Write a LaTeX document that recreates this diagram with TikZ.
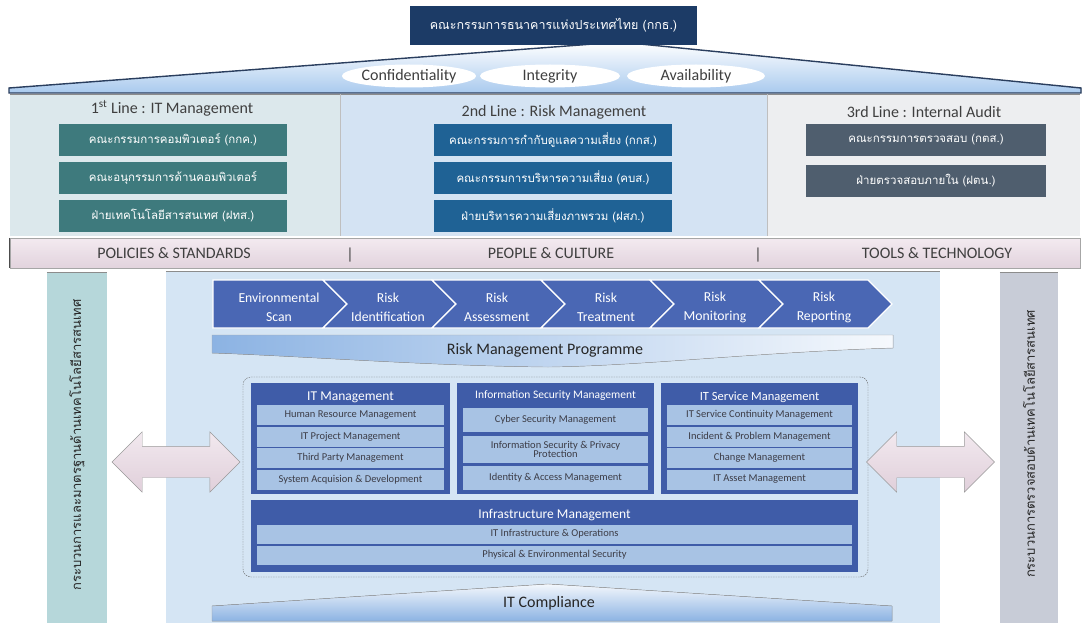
\documentclass[tikz,border=0pt]{standalone}
\usepackage{fontspec}
\setmainfont{Carlito}
\newfontfamily\thaifont[Script=Thai]{Loma}
\usetikzlibrary{shapes.geometric,shapes.arrows}

\definecolor{boardnavy}{HTML}{1C3B66}
\definecolor{roofline}{HTML}{2A3E5E}
\definecolor{roofblue}{HTML}{A9CAEE}
\definecolor{firstpanel}{HTML}{DCE8EC}
\definecolor{secondpanel}{HTML}{D4E3F3}
\definecolor{thirdpanel}{HTML}{EDEEF0}
\definecolor{firstteal}{HTML}{3E7A7D}
\definecolor{secondblue}{HTML}{1F6295}
\definecolor{thirdslate}{HTML}{4F5E6E}
\definecolor{bandtop}{HTML}{F3EAF0}
\definecolor{bandbot}{HTML}{E2D3DD}
\definecolor{bandtext}{HTML}{3F3F3F}
\definecolor{stdbar}{HTML}{B6D7DA}
\definecolor{auditbar}{HTML}{C8CCD7}
\definecolor{corepanel}{HTML}{D5E5F4}
\definecolor{chevblue}{HTML}{4A67B4}
\definecolor{groupblue}{HTML}{3F5CA8}
\definecolor{itemblue}{HTML}{A8C3E4}
\definecolor{itemtext}{HTML}{3C3C46}
\definecolor{ribbonblue}{HTML}{8CB3E3}
\definecolor{arrowtop}{HTML}{F2E9EF}
\definecolor{arrowbot}{HTML}{E0CFDA}

\begin{document}
\begin{tikzpicture}[x=1pt, y=-1pt,
    linebox/.style={rectangle, minimum width=228pt, minimum height=32pt, inner sep=0pt, text=white, font=\thaifont\fontsize{11.5}{13}\selectfont},
    pillar/.style={ellipse, fill=white, minimum width=132pt, minimum height=23pt, inner sep=0pt, text=bandtext, font=\fontsize{16}{18}\selectfont},
    linetitle/.style={text=bandtext, font=\fontsize{16}{18}\selectfont},
    bandlabel/.style={text=bandtext, font=\fontsize{16}{18}\selectfont},
    sidebar/.style={rectangle, minimum width=60pt, minimum height=351pt, inner sep=0pt},
    sidetext/.style={rotate=90, text=black!85, font=\thaifont\fontsize{13}{15}\selectfont},
    chevron/.style={fill=chevblue, draw=white, line width=1.3pt, line join=miter},
    chevtext/.style={align=center, text=white, font=\fontsize{13.7}{19}\selectfont},
    groupbox/.style={rectangle, fill=groupblue, inner sep=0pt},
    grouptitle/.style={text=white, font=\fontsize{13.5}{15}\selectfont},
    itembox/.style={rectangle, fill=itemblue, minimum height=20pt, inner sep=0pt, text=itemtext, font=\fontsize{10.5}{11}\selectfont},
    twoway/.style={double arrow, double arrow tip angle=90, double arrow head extend=14.5pt, double arrow head indent=0pt,
        minimum height=128pt, minimum width=60pt, inner xsep=0pt, inner ysep=15.5pt, draw=black!40, top color=arrowtop, bottom color=arrowbot}]

\useasboundingbox (0,0) rectangle (1090,623);

% roof with the three pillars
\filldraw[top color=white, bottom color=roofblue, draw=roofline, line width=1.4pt]
    (9,93) -- (9,88) -- (620,42) -- (1081,88) -- (1081,93) -- cycle;
\node[rectangle, fill=boardnavy, minimum width=287pt, minimum height=39pt, text=white,
    font=\thaifont\fontsize{12.5}{14}\selectfont] (bot) at (553.5,25.5) {คณะกรรมการธนาคารแห่งประเทศไทย (กกธ.)};
\node[pillar] (confidentiality) at (409,76) {Confidentiality};
\node[pillar, minimum width=140pt] (integrity) at (550,76) {Integrity};
\node[pillar, minimum width=138pt] (availability) at (696,76) {Availability};

% three lines of defence
\node[rectangle, fill=firstpanel, minimum width=330pt, minimum height=141pt, inner sep=0pt] (firstline) at (175,165) {};
\node[rectangle, fill=secondpanel, minimum width=427pt, minimum height=141pt, inner sep=0pt] (secondline) at (553.5,165) {};
\node[rectangle, fill=thirdpanel, minimum width=313pt, minimum height=141pt, inner sep=0pt] (thirdline) at (923.5,165) {};
\draw[black!45, line width=1pt] (firstline.north west) -- (thirdline.north east);
\draw[black!25] (secondline.north west) -- (secondline.south west);
\draw[black!25] (thirdline.north west) -- (thirdline.south west);

\node[linetitle] (firsttitle) at (172,108) {1\textsuperscript{st} Line : IT Management};
\node[linetitle] (secondtitle) at (554,112) {2nd Line : Risk Management};
\node[linetitle] (thirdtitle) at (924,112) {3rd Line : Internal Audit};

\node[linebox, fill=firstteal] (itcommittee) at (173,140) {คณะกรรมการคอมพิวเตอร์ (กกค.)};
\node[linebox, fill=firstteal] (itsubcommittee) at (173,178) {คณะอนุกรรมการด้านคอมพิวเตอร์};
\node[linebox, fill=firstteal] (itdept) at (173,216) {ฝ่ายเทคโนโลยีสารสนเทศ (ฝทส.)};

\node[linebox, fill=secondblue, minimum width=238pt] (riskoversight) at (553,140) {คณะกรรมการกำกับดูแลความเสี่ยง (กกส.)};
\node[linebox, fill=secondblue, minimum width=238pt] (riskcommittee) at (553,178) {คณะกรรมการบริหารความเสี่ยง (คบส.)};
\node[linebox, fill=secondblue, minimum width=238pt] (riskdept) at (553,216) {ฝ่ายบริหารความเสี่ยงภาพรวม (ฝสภ.)};

\node[linebox, fill=thirdslate, minimum width=240pt] (auditcommittee) at (926,140) {คณะกรรมการตรวจสอบ (กตส.)};
\node[linebox, fill=thirdslate, minimum width=240pt] (auditdept) at (926,181) {ฝ่ายตรวจสอบภายใน (ฝตน.)};

% enablers band
\node[rectangle, top color=bandtop, bottom color=bandbot, draw=black!35, minimum width=1070pt, minimum height=30pt, inner sep=0pt] (enablers) at (545,253) {};
\draw[black!70, line width=1.2pt] (enablers.north west) -- (enablers.south west);
\node[bandlabel] (policies) at (174,253) {POLICIES \& STANDARDS};
\node[bandlabel] (sepa) at (350,255) {|};
\node[bandlabel] (people) at (551,253) {PEOPLE \& CULTURE};
\node[bandlabel] (sepb) at (758,255) {|};
\node[bandlabel] (tools) at (937,253) {TOOLS \& TECHNOLOGY};

% side processes and core panel
\node[sidebar, fill=stdbar] (standards) at (77,447.5) {};
\node[sidebar, fill=auditbar, minimum width=58pt] (auditing) at (1029,447.5) {};
\node[sidebar, fill=corepanel, minimum width=774pt, minimum height=352pt] (core) at (553,447) {};
\draw[black!45] (standards.north west) -- (standards.north east);
\draw[black!45] (auditing.north west) -- (auditing.north east);
\draw[black!45] (core.north west) -- (core.north east);
\node[sidetext] (standardstext) at (77,445) {กระบวนการและมาตรฐานด้านเทคโนโลยีสารสนเทศ};
\node[sidetext] (auditingtext) at (1029,444) {กระบวนการตรวจสอบด้านเทคโนโลยีสารสนเทศ};

% risk management process
\foreach \i/\ta/\tb in {0/Environmental/Scan, 1/Risk/Identification, 2/Risk/Assessment,
                        3/Risk/Treatment, 4/Risk/Monitoring, 5/Risk/Reporting}{
  \pgfmathsetmacro{\tip}{347+109*\i}
  \ifnum\i=0
    \draw[chevron] (213,280) -- (\tip-24,280) -- (\tip,304) -- (\tip-24,328) -- (213,328) -- cycle;
  \else
    \draw[chevron] (\tip-133,280) -- (\tip-24,280) -- (\tip,304) -- (\tip-24,328) -- (\tip-133,328) -- (\tip-109,304) -- cycle;
  \fi
  \node[chevtext] (stage\i) at (\tip-68,307) {\ta\\\tb};
}

\filldraw[left color=ribbonblue, right color=white!92!ribbonblue, draw=black!35]
    (212,335) -- (893,335) -- (893,348) .. controls (760,352) and (640,366) .. (548,367)
    .. controls (430,366) and (300,356) .. (212,353) -- cycle;
\node[text=black!85, font=\fontsize{16}{18}\selectfont] (programme) at (545,350) {Risk Management Programme};

% IT governance domains
\node[rectangle, draw=black!60, dash pattern=on 1.5pt off 1pt, rounded corners=8pt, minimum width=625pt, minimum height=200pt] (domains) at (555.5,477) {};

\node[groupbox, minimum width=199pt, minimum height=111pt] (itmgmt) at (350.5,438.5) {};
\node[groupbox, minimum width=197pt, minimum height=111pt] (infosec) at (555.5,438.5) {};
\node[groupbox, minimum width=197pt, minimum height=111pt] (itsm) at (759.5,438.5) {};
\node[groupbox, minimum width=607pt, minimum height=72pt] (infra) at (554.5,536) {};

\node[grouptitle] (itmgmttitle) at (350.5,397) {IT Management};
\node[grouptitle, font=\fontsize{11.5}{13}\selectfont] (infosectitle) at (555.5,396) {Information Security Management};
\node[grouptitle, font=\fontsize{12.5}{14}\selectfont] (itsmtitle) at (759.5,397) {IT Service Management};
\node[grouptitle] (infratitle) at (554.5,515) {Infrastructure Management};

\foreach \txt [count=\k] in {Human Resource Management, IT Project Management, Third Party Management, System Acquision \& Development}
  \node[itembox, minimum width=187pt] (itmgmt\k) at (350.5,393.5+21.5*\k) {\txt};
\foreach \txt [count=\k] in {IT Service Continuity Management, Incident \& Problem Management, Change Management, IT Asset Management}
  \node[itembox, minimum width=185pt] (itsm\k) at (759.5,393.5+21.5*\k) {\txt};

\node[itembox, minimum width=185pt, minimum height=24pt] (infosec1) at (555.5,420) {Cyber Security Management};
\node[itembox, minimum width=185pt, minimum height=27pt, align=center, font=\fontsize{10.5}{9}\selectfont] (infosec2) at (555.5,449) {Information Security \& Privacy\\Protection};
\node[itembox, minimum width=185pt, minimum height=24pt] (infosec3) at (555.5,478) {Identity \& Access Management};

\node[itembox, minimum width=595pt, minimum height=19pt] (infra1) at (554.5,534) {IT Infrastructure \& Operations};
\node[itembox, minimum width=595pt, minimum height=19pt] (infra2) at (554.5,555) {Physical \& Environmental Security};

% compliance base
\filldraw[top color=white!90!ribbonblue, bottom color=ribbonblue, draw=black!40]
    (212,606) -- (548,584) -- (892,606) -- (892,621) -- (212,621) -- cycle;
\node[text=black!85, font=\fontsize{16}{18}\selectfont] (compliance) at (549,603) {IT Compliance};

% links to side processes
\node[twoway] (standardslink) at (176,462) {};
\node[twoway] (auditinglink) at (930.5,462) {};

\end{tikzpicture}
\end{document}
